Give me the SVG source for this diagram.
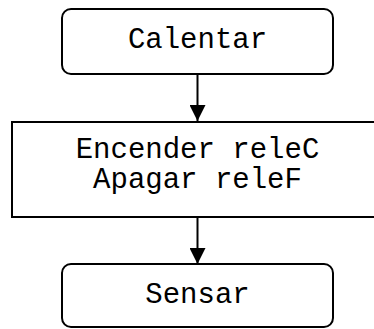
<svg xmlns="http://www.w3.org/2000/svg" width="374" height="329" viewBox="0 0 374 329">
<style>
.box{fill:#fff;stroke:#000;stroke-width:2}
.lbl{font-family:"Liberation Mono",monospace;font-size:29px;fill:#000;text-anchor:middle}
.edge{stroke:#000;stroke-width:2;fill:none}
</style>
<defs>
<marker id="ah" markerWidth="16" markerHeight="16" viewBox="0 0 16 16" refX="16" refY="8" orient="auto" markerUnits="userSpaceOnUse">
<path d="M0,0 L16,8 L0,16 Z" fill="#000"/>
</marker>
</defs>
<rect width="374" height="329" fill="#fff"/>
<g id="connectors">
<line class="edge" x1="197.5" y1="74" x2="197.5" y2="121" marker-end="url(#ah)"/>
<line class="edge" x1="197.5" y1="217" x2="197.5" y2="264" marker-end="url(#ah)"/>
</g>
<g id="calentar">
<rect class="box" x="62" y="9" width="271" height="65" rx="9" ry="9"/>
<text class="lbl" x="197.5" y="48">Calentar</text>
</g>
<g id="encender">
<rect class="box" x="12" y="122" width="372" height="95"/>
<text class="lbl" x="197.5" y="158">Encender releC</text>
<text class="lbl" x="197.5" y="188">Apagar releF</text>
</g>
<g id="sensar">
<rect class="box" x="62" y="264" width="271" height="63" rx="9" ry="9"/>
<text class="lbl" x="197.5" y="303">Sensar</text>
</g>
</svg>
